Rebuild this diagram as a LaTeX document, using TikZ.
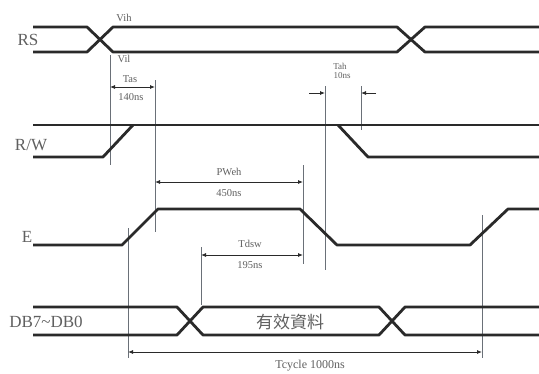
\documentclass[tikz,border=0pt]{standalone}
\usepackage{fontspec}
\setmainfont{Liberation Serif}
\newfontfamily\cjk{Noto Sans CJK TC}
\usetikzlibrary{arrows.meta}
\definecolor{sig}{HTML}{2A2A2A}
\definecolor{thin}{HTML}{6A7078}
\definecolor{txt}{HTML}{606060}
\begin{document}
\begin{tikzpicture}[x=1pt,y=-1pt,
 signal/.style={draw=sig,line width=2.8pt,line join=round},
 guide/.style={draw=thin,line width=0.7pt},
 dim/.style={draw=sig,line width=0.8pt,{Latex[length=5pt,width=4pt]}-{Latex[length=5pt,width=4pt]}},
 halfdim/.style={draw=sig,line width=0.8pt,-{Latex[length=5pt,width=4pt]}},
 signame/.style={text=txt,font=\fontsize{17}{17}\selectfont,inner sep=0pt},
 lab/.style={text=txt,font=\fontsize{10.5}{10.5}\selectfont,inner sep=0pt},
 biglab/.style={text=txt,font=\fontsize{12}{12}\selectfont,inner sep=0pt}]
\useasboundingbox (0,0) rectangle (539,373);
\fill[white] (0,0) rectangle (539,373);

% signal names
\node[signame] (rs) at (28,40) {RS};
\node[signame] (rw) at (31,145) {R/W};
\node[signame] (e) at (27,237) {E};
\node[signame] (db) at (46,322) {DB7\char`~DB0};

% guide lines
\coordinate (g1t) at (110,55);  \coordinate (g1b) at (110,165);
\coordinate (g2t) at (155,80);  \coordinate (g2b) at (155,232);
\coordinate (g3t) at (128,228); \coordinate (g3b) at (128,358);
\coordinate (g4t) at (303,165); \coordinate (g4b) at (303,264);
\coordinate (g5t) at (201,247); \coordinate (g5b) at (201,305);
\coordinate (g6t) at (325,86);  \coordinate (g6b) at (325,270);
\coordinate (g7t) at (361,86);  \coordinate (g7b) at (361,130);
\coordinate (g8t) at (482,215); \coordinate (g8b) at (482,358);
\foreach \g in {1,...,8} \draw[guide] (g\g t) -- (g\g b);

% RS bus
\draw[signal] (33,27) -- (87,27) -- (113,52) -- (397,52) -- (425,27) -- (539,27);
\draw[signal] (33,52) -- (87,52) -- (113,27) -- (397,27) -- (425,52) -- (539,52);
\node[lab] (vih) at (124,18) {Vih};
\node[lab] (vil) at (124,59) {Vil};

% R/W
\draw[signal] (33,125) -- (539,125);
\draw[signal] (33,157) -- (103,157) -- (133,125);
\draw[signal] (338,125) -- (368,157) -- (539,157);

% E
\draw[signal] (33,245) -- (122,245) -- (158,209) -- (300,209) -- (337,245) -- (470,245) -- (508,209) -- (539,209);

% DB bus
\draw[signal] (33,307) -- (177,307) -- (203,335) -- (379,335) -- (405,307) -- (539,307);
\draw[signal] (33,335) -- (177,335) -- (203,307) -- (379,307) -- (405,335) -- (539,335);
\node[text=txt,font=\cjk\fontsize{17}{17}\selectfont,inner sep=0pt] (valid) at (290,322) {有效資料};

% Tas
\coordinate (tasL) at (110,87); \coordinate (tasR) at (155,87);
\draw[dim] (tasL) -- (tasR);
\node[lab] (tas) at (130,79) {Tas};
\node[lab] (tasv) at (131,97) {140ns};

% PWeh
\coordinate (pwL) at (155,182); \coordinate (pwR) at (303,182);
\draw[dim] (pwL) -- (pwR);
\node[lab] (pw) at (229,172) {PWeh};
\node[lab] (pwv) at (229,193) {450ns};

% Tdsw
\coordinate (tdL) at (201,255); \coordinate (tdR) at (303,255);
\draw[dim] (tdL) -- (tdR);
\node[lab] (td) at (250,244) {Tdsw};
\node[lab] (tdv) at (250,265) {195ns};

% Tah
\coordinate (tahA) at (309,93); \coordinate (tahB) at (325,93);
\coordinate (tahC) at (376,93); \coordinate (tahD) at (361,93);
\draw[halfdim] (tahA) -- (tahB);
\draw[halfdim] (tahC) -- (tahD);
\node[lab,font=\fontsize{9}{9}\selectfont] (tah) at (340,66) {Tah};
\node[lab,font=\fontsize{9}{9}\selectfont] (tahv) at (342,76) {10ns};

% Tcycle
\coordinate (tcL) at (128,352); \coordinate (tcR) at (482,352);
\draw[dim] (tcL) -- (tcR);
\node[biglab] (tc) at (310,366) {Tcycle 1000ns};
\end{tikzpicture}
\end{document}
